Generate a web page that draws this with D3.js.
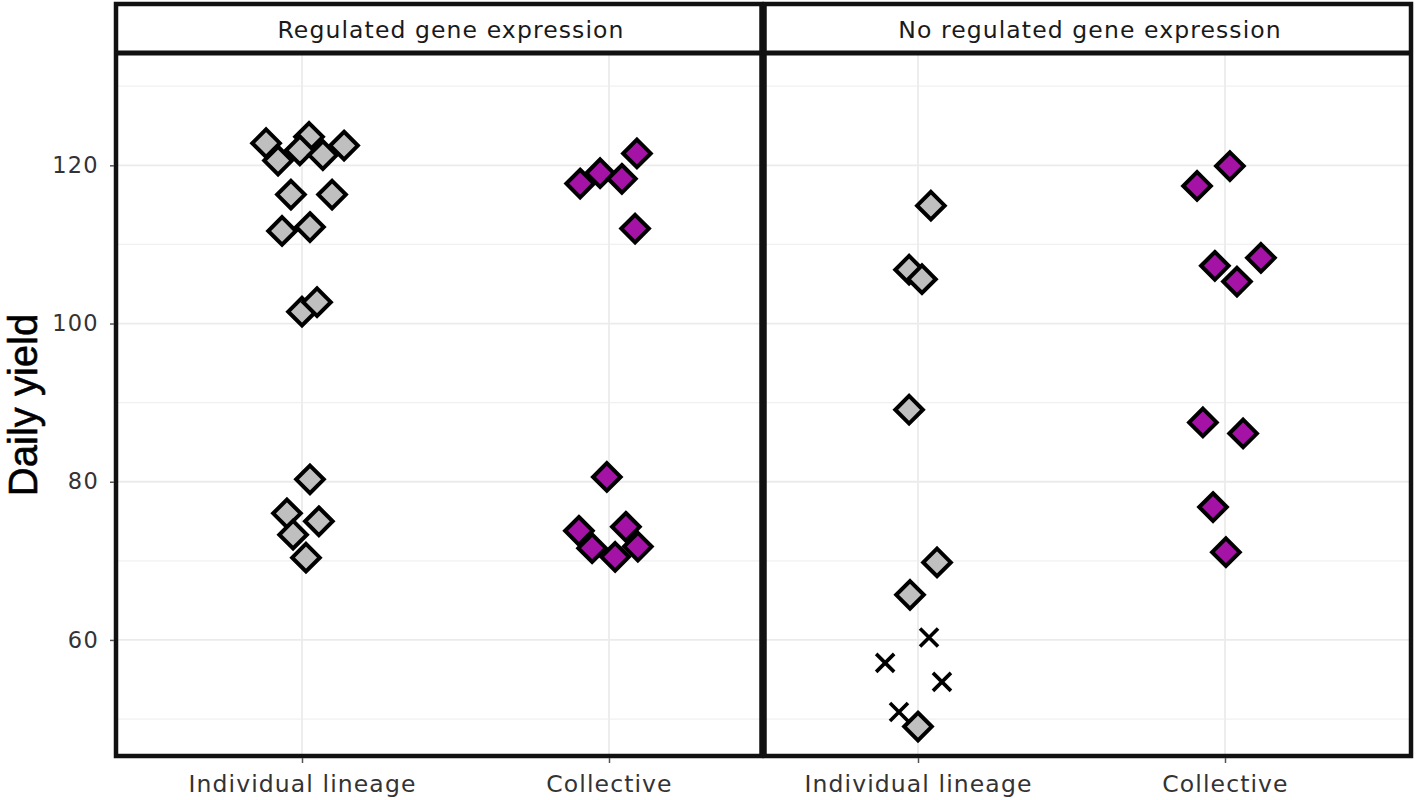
<!DOCTYPE html>
<html>
<head>
<meta charset="utf-8">
<script src="https://cdn.jsdelivr.net/npm/d3@7"></script>
<style>
  html, body { margin: 0; padding: 0; background: #ffffff; }
  svg { display: block; }
</style>
</head>
<body>
<svg id="chart" width="1416" height="800"></svg>
<script>
// ---------------- DATA ----------------
const panels = ["Regulated gene expression", "No regulated gene expression"];
const categories = ["Individual lineage", "Collective"];
const yTickValues = [60, 80, 100, 120];
const yMinorValues = [50, 70, 90, 110, 130];
const yDomain = [45.2, 134.2];
const yAxisTitle = "Daily yield";

// values (daily yield) and horizontal jitter (in category units)
const regIndividualValues = [122.8, 120.6, 123.6, 121.9, 121.3, 122.5, 116.3, 116.3, 111.7, 112.2, 101.5, 102.7, 80.3, 76.0, 75.0, 73.3, 70.4];
const regIndividualJitter = [-0.117, -0.078, 0.023, -0.007, 0.068, 0.137, -0.036, 0.098, -0.065, 0.026, 0.0, 0.049, 0.026, -0.049, 0.055, -0.029, 0.013];

const regCollectiveValues = [121.5, 117.7, 119.0, 118.3, 112.0, 80.6, 73.8, 71.6, 74.3, 70.5, 71.8];
const regCollectiveJitter = [0.091, -0.094, -0.029, 0.042, 0.085, -0.007, -0.098, -0.055, 0.055, 0.020, 0.094];

const noRegIndividualValues = [114.9, 106.8, 105.6, 89.1, 69.8, 65.7, 49.05];
const noRegIndividualJitter = [0.042, -0.029, 0.013, -0.029, 0.062, -0.026, 0.0];

const noRegIndividualExtinctValues = [60.3, 57.1, 54.7, 50.9];
const noRegIndividualExtinctJitter = [0.036, -0.107, 0.078, -0.062];

const noRegCollectiveValues = [119.9, 117.4, 107.3, 108.3, 105.3, 87.5, 86.1, 76.8, 71.1];
const noRegCollectiveJitter = [0.016, -0.091, -0.033, 0.117, 0.039, -0.072, 0.059, -0.039, 0.003];

// build point table
function rows(panel, cat, vals, jit, shape) {
  return vals.map((v, i) => ({ panel, cat, value: v, jitter: jit[i], shape }));
}
const points = [].concat(
  rows(0, categories[0], regIndividualValues, regIndividualJitter, "diamond"),
  rows(0, categories[1], regCollectiveValues, regCollectiveJitter, "diamond"),
  rows(1, categories[0], noRegIndividualValues, noRegIndividualJitter, "diamond"),
  rows(1, categories[0], noRegIndividualExtinctValues, noRegIndividualExtinctJitter, "cross"),
  rows(1, categories[1], noRegCollectiveValues, noRegCollectiveJitter, "diamond")
);

// ---------------- LAYOUT / STYLE ----------------
const fillByCat = { "Individual lineage": "#bfbfbf", "Collective": "#a412a6" };
const frames = [
  { x0: 116, x1: 761.5, catRange: [302, 609], stripCx: 451 },
  { x0: 764.5, x1: 1411, catRange: [918, 1225], stripCx: 1090 }
];
const topY = 4, stripY = 53, bottomY = 756;
const frameW = 4.5;

const svg = d3.select("#chart");
const y = d3.scaleLinear().domain(yDomain).range([bottomY + 1, stripY]);

const tickFont = "'DejaVu Sans', Verdana, sans-serif";

frames.forEach((f, pi) => {
  const x = d3.scalePoint().domain(categories).range(f.catRange);
  const step = f.catRange[1] - f.catRange[0];
  const g = svg.append("g");

  // gridlines (minor)
  g.selectAll(".minor").data(yMinorValues).enter().append("line")
    .attr("x1", f.x0).attr("x2", f.x1)
    .attr("y1", d => y(d)).attr("y2", d => y(d))
    .attr("stroke", "#f0f0f0").attr("stroke-width", 1.2);
  // gridlines (major)
  g.selectAll(".major").data(yTickValues).enter().append("line")
    .attr("x1", f.x0).attr("x2", f.x1)
    .attr("y1", d => y(d)).attr("y2", d => y(d))
    .attr("stroke", "#ebebeb").attr("stroke-width", 1.8);
  g.selectAll(".vgrid").data(categories).enter().append("line")
    .attr("x1", d => x(d)).attr("x2", d => x(d))
    .attr("y1", stripY).attr("y2", bottomY)
    .attr("stroke", "#ebebeb").attr("stroke-width", 1.8);

  // points
  const pts = points.filter(p => p.panel === pi);
  const r = 13.8;
  const diamond = `M0,${-r}L${r},0L0,${r}L${-r},0Z`;
  const c = 9;
  const cross = `M${-c},${-c}L${c},${c}M${-c},${c}L${c},${-c}`;
  g.selectAll(".pt").data(pts).enter().append("path")
    .attr("transform", d => `translate(${x(d.cat) + d.jitter * step},${y(d.value)})`)
    .attr("d", d => d.shape === "diamond" ? diamond : cross)
    .attr("fill", d => d.shape === "diamond" ? fillByCat[d.cat] : "none")
    .attr("stroke", "#000")
    .attr("stroke-width", d => d.shape === "diamond" ? 4 : 3.6)
    .attr("stroke-linejoin", "miter");

  // strip background + label
  g.append("rect").attr("x", f.x0).attr("y", topY).attr("width", f.x1 - f.x0).attr("height", stripY - topY)
    .attr("fill", "#ffffff");
  g.append("text")
    .attr("x", f.stripCx).attr("y", 30)
    .attr("text-anchor", "middle").attr("dominant-baseline", "central")
    .attr("font-family", tickFont).attr("font-size", 23.5).attr("letter-spacing", 1.1)
    .attr("fill", "#1a1a1a")
    .text(panels[pi]);

  // frames
  g.append("rect").attr("x", f.x0).attr("y", topY).attr("width", f.x1 - f.x0).attr("height", bottomY - topY)
    .attr("fill", "none").attr("stroke", "#111").attr("stroke-width", frameW);
  g.append("line").attr("x1", f.x0).attr("x2", f.x1).attr("y1", stripY).attr("y2", stripY)
    .attr("stroke", "#111").attr("stroke-width", 5);

  // x axis ticks + labels
  const xa = d3.axisBottom(x).tickSize(5).tickPadding(12);
  const xg = svg.append("g").attr("transform", `translate(0,${bottomY + 2})`).call(xa);
  xg.select(".domain").remove();
  xg.selectAll(".tick line").attr("stroke", "#555").attr("stroke-width", 1.5);
  xg.selectAll(".tick text")
    .attr("font-family", tickFont).attr("font-size", 23.5).attr("letter-spacing", 1.1)
    .attr("fill", "#333");
});

// y axis
const ya = d3.axisLeft(y).tickValues(yTickValues).tickSize(4).tickPadding(11).tickFormat(d3.format("d"));
const yg = svg.append("g").attr("transform", `translate(${frames[0].x0 - 2},0)`).call(ya);
yg.select(".domain").remove();
yg.selectAll(".tick line").attr("stroke", "#555").attr("stroke-width", 1.5);
yg.selectAll(".tick text")
  .attr("font-family", tickFont).attr("font-size", 22.5).attr("letter-spacing", 1.3)
  .attr("fill", "#333");

// y axis title
svg.append("text")
  .attr("transform", `translate(37,405) rotate(-90)`)
  .attr("text-anchor", "middle")
  .attr("font-family", "'Liberation Sans', Arial, sans-serif")
  .attr("font-size", 40)
  .attr("fill", "#000")
  .attr("stroke", "#000").attr("stroke-width", 0.6)
  .text(yAxisTitle);
</script>
</body>
</html>
